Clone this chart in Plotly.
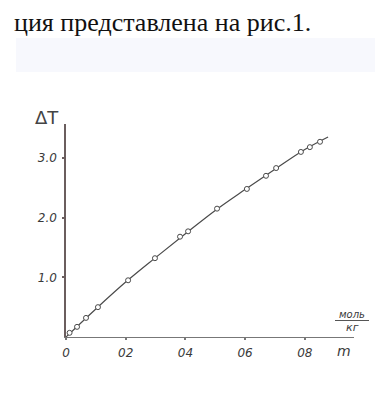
import plotly.graph_objects as go

# measured points (open circles)
m_points = [0.012, 0.037, 0.067, 0.107, 0.208, 0.298, 0.382, 0.409, 0.506, 0.606, 0.670, 0.704, 0.787, 0.817, 0.851]
dT_points = [0.07, 0.17, 0.32, 0.50, 0.95, 1.32, 1.68, 1.77, 2.15, 2.48, 2.70, 2.83, 3.10, 3.18, 3.27]

# smooth drawn curve
curve_m = [0.0, 0.1, 0.2, 0.3, 0.4, 0.5, 0.6, 0.7, 0.8, 0.878]
curve_dT = [0.0, 0.47, 0.92, 1.33, 1.73, 2.12, 2.47, 2.81, 3.14, 3.35]

x_tickvals = [0, 0.2, 0.4, 0.6, 0.8]
x_ticktext = ["0", "02", "04", "06", "08"]
y_tickvals = [1.0, 2.0, 3.0]
y_ticktext = ["1.0", "2.0", "3.0"]

W, H = 383, 403
L, R, T, B = 58, 37, 116, 74


def px(xpix):
    return (xpix - L) / (W - L - R)


def py(ypix):
    return (H - B - ypix) / (H - T - B)


fig = go.Figure()
fig.add_trace(go.Scatter(x=curve_m, y=curve_dT, mode="lines", line=dict(color="#4a4a4a", width=1.2, shape="spline"),
                         hoverinfo="skip", cliponaxis=False))
fig.add_trace(go.Scatter(x=m_points, y=dT_points, mode="markers",
                         marker=dict(symbol="circle", size=5, color="white", line=dict(color="#4a4a4a", width=1)),
                         cliponaxis=False))

tickfont = dict(family="DejaVu Sans", size=12, color="#3a3a3a")
fig.update_xaxes(range=[0, (W - L - R) / 298.5], showgrid=False, zeroline=False, showline=True,
                 linecolor="#777", linewidth=1.3, ticks="outside", ticklen=2, tickwidth=2, tickcolor="#777",
                 tickvals=x_tickvals, ticktext=[f"<i>{t}</i>" for t in x_ticktext], tickfont=tickfont,
                 ticklabelstandoff=2)
fig.update_yaxes(range=[0, (H - T - B) / 59.7], showgrid=False, zeroline=False, showline=True,
                 linecolor="#6b5e5e", linewidth=1.5, ticks="outside", ticklen=2, tickwidth=2, tickcolor="#6b5e5e",
                 tickvals=y_tickvals, ticktext=[f"<i>{t}</i>" for t in y_ticktext], tickfont=tickfont,
                 ticklabelstandoff=3)

annotations = [
    dict(text="ция представлена на рис.1.", x=px(4), y=py(-2), xanchor="left", yanchor="top",
         font=dict(family="Liberation Serif", size=26, color="#111")),
    dict(text="ΔT", x=px(39), y=py(109), xanchor="center", yanchor="middle",
         font=dict(family="DejaVu Sans", size=18, color="#444")),
    dict(text="<i>моль</i>", x=px(344), y=py(306), xanchor="center", yanchor="middle",
         font=dict(family="DejaVu Sans", size=10, color="#3a3a3a")),
    dict(text="<i>кг</i>", x=px(344), y=py(319), xanchor="center", yanchor="middle",
         font=dict(family="DejaVu Sans", size=11, color="#3a3a3a")),
    dict(text="<i>m</i>", x=px(336), y=py(343), xanchor="center", yanchor="middle",
         font=dict(family="DejaVu Sans", size=14, color="#3a3a3a")),
]
for a in annotations:
    a.update(xref="paper", yref="paper", showarrow=False)

shapes = [
    dict(type="rect", xref="paper", yref="paper", x0=px(8), x1=px(378), y0=py(64), y1=py(30),
         fillcolor="rgba(232,235,248,0.35)", line=dict(width=0), layer="below"),
    dict(type="line", xref="paper", yref="paper", x0=px(327), x1=px(361), y0=py(312.5), y1=py(312.5),
         line=dict(color="#555", width=1)),
]

fig.update_layout(width=W, height=H, margin=dict(l=L, r=R, t=T, b=B), paper_bgcolor="white",
                  plot_bgcolor="white", showlegend=False, annotations=annotations, shapes=shapes)
fig.write_html("out.html")
